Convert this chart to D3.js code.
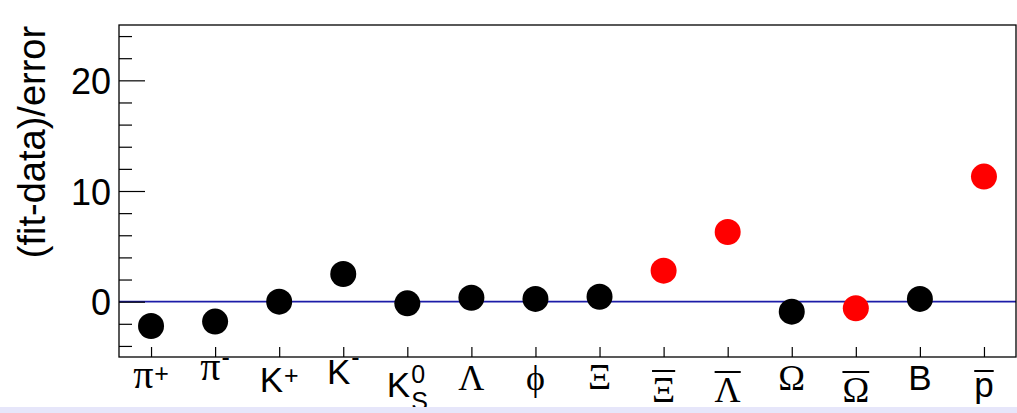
<!DOCTYPE html>
<html>
<head>
<meta charset="utf-8">
<script src="https://cdn.jsdelivr.net/npm/d3@7"></script>
<style>
  html, body { margin: 0; padding: 0; background: #fff; overflow: hidden; }
  svg { display: block; }
</style>
</head>
<body>
<svg id="chart" width="1017" height="413"></svg>
<script>
// Particle species along the x axis
const species = ["pi+", "pi-", "K+", "K-", "K0S", "Lambda", "phi", "Xi",
                 "antiXi", "antiLambda", "Omega", "antiOmega", "B", "antip"];
// (fit - data)/error for each species
const pulls = [-2.2, -1.8, 0.0, 2.5, -0.15, 0.35, 0.25, 0.45,
               2.8, 6.3, -0.9, -0.6, 0.25, 11.3];
// Species left out of the fit
const excluded = [false, false, false, false, false, false, false, false,
                  true, true, false, true, false, true];
// Tick label pieces: base glyph, superscript, subscript, overline
const tickBase = ["π", "π", "K", "K", "K", "Λ", "ϕ", "Ξ", "Ξ", "Λ", "Ω", "Ω", "B", "p"];
const tickSup  = ["+", "-", "+", "-", "0", "", "", "", "", "", "", "", "", ""];
const tickSub  = ["", "", "", "", "S", "", "", "", "", "", "", "", "", ""];
const tickBar  = [false, false, false, false, false, false, false, false,
                  true, true, false, true, false, true];
const yMajor = [0, 10, 20];
const yLimits = [-5, 25];

// Per-label typesetting offsets (baseline below the axis, raise of the
// superscript, drop of the subscript, height of the overline)
const labelLayout = {
  baseline: [31, 23, 35, 27, 40, 33, 33, 32, 45, 45, 33, 45, 33, 40],
  supRaise: [-6, -14, -8, -18, -14, 0, 0, 0, 0, 0, 0, 0, 0, 0],
  subDrop:  [0, 0, 0, 0, 13, 0, 0, 0, 0, 0, 0, 0, 0, 0],
  barRaise: [0, 0, 0, 0, 0, 0, 0, 0, -31, -30, 0, -30, 0, -26]
};

const svg = d3.select("#chart");
const frame = { left: 119, right: 1016, top: 25, bottom: 357 };
const sans = "'Liberation Sans', Arial, Helvetica, sans-serif";
const serif = "'Liberation Serif', 'DejaVu Serif', 'Times New Roman', serif";

const x = d3.scaleLinear().domain([0, species.length]).range([frame.left, frame.right]);
const y = d3.scaleLinear().domain(yLimits).range([frame.bottom, frame.top]);

// Reference line at zero
svg.append("line")
  .attr("x1", frame.left).attr("x2", frame.right)
  .attr("y1", y(0)).attr("y2", y(0))
  .attr("stroke", "#1c1ca8").attr("stroke-width", 1.6);

// Minor y ticks
const minor = d3.range(-4, 25, 2).filter(v => v % 10 !== 0);
svg.append("g")
  .attr("transform", `translate(${frame.left},0)`)
  .call(d3.axisLeft(y).tickValues(minor).tickSize(-13).tickFormat(""))
  .call(g => g.select(".domain").remove())
  .call(g => g.selectAll("line").attr("stroke", "#000").attr("stroke-width", 1.2));

// Major y ticks with labels
svg.append("g")
  .attr("transform", `translate(${frame.left},0)`)
  .call(d3.axisLeft(y).tickValues(yMajor).tickSize(-26).tickPadding(8).tickFormat(d3.format("d")))
  .call(g => g.select(".domain").remove())
  .call(g => g.selectAll("line").attr("stroke", "#000").attr("stroke-width", 1.2))
  .call(g => g.selectAll("text")
    .attr("fill", "#000")
    .attr("dy", "0.37em")
    .style("font-family", sans)
    .style("font-size", "36px"));

// Category ticks on the bottom edge
svg.append("g")
  .attr("transform", `translate(0,${frame.bottom})`)
  .call(d3.axisBottom(x).tickValues(d3.range(species.length).map(i => i + 0.5))
    .tickSize(-10).tickFormat(""))
  .call(g => g.select(".domain").remove())
  .call(g => g.selectAll("line").attr("stroke", "#000").attr("stroke-width", 1.2));

// Frame
svg.append("rect")
  .attr("x", frame.left).attr("y", frame.top)
  .attr("width", frame.right - frame.left).attr("height", frame.bottom - frame.top)
  .attr("fill", "none").attr("stroke", "#000").attr("stroke-width", 1.3);

// Pull markers
svg.append("g").selectAll("circle")
  .data(pulls)
  .join("circle")
  .attr("cx", (d, i) => x(i + 0.5))
  .attr("cy", d => y(d))
  .attr("r", 13)
  .attr("fill", (d, i) => excluded[i] ? "#ff0000" : "#000000");

// Species labels, typeset piece by piece
const labels = svg.append("g");
tickBase.forEach((b, i) => {
  const isGreek = /[\u0370-\u03ff]/.test(b);
  const g = labels.append("g");
  const base = g.append("text")
    .attr("x", 0).attr("y", 0)
    .attr("fill", "#000")
    .style("font-family", isGreek ? serif : sans)
    .style("font-size", b === "π" ? "40px" : (isGreek ? "36px" : "35px"))
    .text(b);
  const w = base.node().getComputedTextLength();
  let extra = 0;
  if (tickSup[i]) {
    const s = g.append("text")
      .attr("x", w + 1).attr("y", labelLayout.supRaise[i])
      .attr("fill", "#000")
      .style("font-family", sans).style("font-size", "25px")
      .text(tickSup[i]);
    extra = Math.max(extra, s.node().getComputedTextLength() + 1);
  }
  if (tickSub[i]) {
    const s = g.append("text")
      .attr("x", w + 1).attr("y", labelLayout.subDrop[i])
      .attr("fill", "#000")
      .style("font-family", sans).style("font-size", "25px")
      .text(tickSub[i]);
    extra = Math.max(extra, s.node().getComputedTextLength() + 1);
  }
  if (tickBar[i]) {
    g.append("line")
      .attr("x1", 0).attr("x2", w)
      .attr("y1", labelLayout.barRaise[i]).attr("y2", labelLayout.barRaise[i])
      .attr("stroke", "#000").attr("stroke-width", 2);
  }
  const total = w + extra;
  g.attr("transform", `translate(${x(i + 0.5) - total / 2},${frame.bottom + labelLayout.baseline[i]})`);
});

// Y axis title
svg.append("text")
  .attr("transform", `translate(45,142) rotate(-90)`)
  .attr("text-anchor", "middle")
  .attr("fill", "#000")
  .style("font-family", sans)
  .style("font-size", "38px")
  .text("(fit-data)/error");

// Lavender strip along the bottom edge of the page
svg.append("rect")
  .attr("x", 0).attr("y", 407)
  .attr("width", 1017).attr("height", 6)
  .attr("fill", "#e6e6fa");
</script>
</body>
</html>
